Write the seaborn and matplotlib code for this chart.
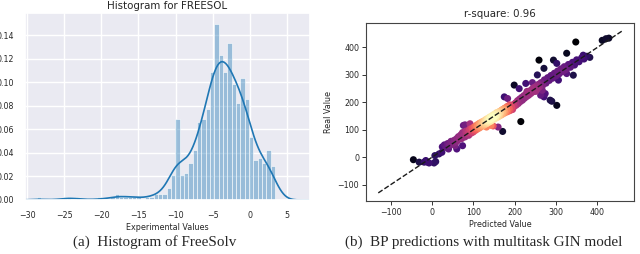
import numpy as np
import pandas as pd
import matplotlib.pyplot as plt
import seaborn as sns

# ---------------------------
# DATA
# ---------------------------
# histogram of FreeSolv experimental values (density per bin, read off the figure)
bin_start = -28.7
bin_width = 0.584
hist_heights = [0.0027, 0, 0, 0, 0, 0, 0.0027, 0.0027, 0, 0.0027,
                0, 0, 0, 0, 0.0027, 0, 0, 0.0027, 0.0054, 0.0027,
                0.0027, 0.0027, 0.0027, 0.0027, 0, 0.0027, 0.0027, 0.0054, 0.0054, 0.0054,
                0.0107, 0.0214, 0.0695, 0.0214, 0.0235, 0.032, 0.0427, 0.067, 0.0695, 0.078,
                0.110, 0.151, 0.124, 0.110, 0.1346, 0.0996, 0.0834, 0.1047, 0.0868, 0.054,
                0.034, 0.036, 0.032, 0.0427, 0.029]
hist_xticks = [-30, -25, -20, -15, -10, -5, 0, 5]
hist_yticks = [0.00, 0.02, 0.04, 0.06, 0.08, 0.10, 0.12, 0.14]

# BP predictions: main band along the diagonal
band_pred = [25, 30, 34, 38, 42, 46, 50, 54, 58, 60,
             62, 64, 67, 70, 72, 74, 77, 80, 82, 84, 87, 89, 91, 93, 95, 97, 99, 100,
             102, 103, 105, 106, 108, 109, 111, 112, 114, 115, 117, 118, 120, 121, 123, 124,
             126, 127, 129, 130, 132, 133, 135, 136, 138, 139, 141, 142, 144, 145, 147, 148,
             150, 151, 153, 154, 156, 157, 159, 160, 162, 163, 165, 166, 168, 169, 171, 172,
             174, 175, 177, 179, 181, 183, 185, 187, 189, 191, 193, 195, 197, 199,
             202, 204, 207, 209, 212, 214, 217, 219, 222, 224, 227, 229, 232, 234, 237, 239,
             242, 244, 247, 250, 253, 255, 258, 260,
             264, 268, 272, 276, 280, 284, 288, 292, 296, 300, 304, 308, 312, 316, 320, 325,
             330, 335, 340, 345, 350, 356, 362, 368, 375, 382,
             # extra points in the crowded middle of the band
             110, 113, 116, 119, 122, 125, 128, 131, 134, 137, 140, 143, 146, 149, 152,
             155, 158, 161, 164, 167, 170, 173, 176, 179, 182, 185, 188,
             134, 138, 142, 146, 150, 154, 158, 162, 140, 148, 156]
band_real = [38, 45, 36, 50, 44, 58, 48, 62, 55, 68,
             60, 75, 70, 82, 68, 90, 80, 74, 95, 86, 92, 80, 102, 96, 88, 106, 100, 92,
             110, 104, 98, 115, 108, 102, 120, 113, 106, 124, 117, 110, 128, 121, 114, 131,
             125, 118, 136, 129, 122, 140, 133, 126, 144, 137, 130, 148, 141, 134, 152, 145,
             138, 156, 149, 142, 160, 153, 146, 164, 157, 150, 168, 161, 154, 172, 165, 158,
             176, 169, 162, 180, 173, 166, 184, 177, 170, 188, 181, 174, 192, 185,
             198, 190, 206, 196, 212, 203, 218, 208, 224, 215, 230, 221, 236, 226, 242, 232,
             248, 238, 254, 244, 260, 250, 266, 256,
             272, 262, 282, 270, 290, 280, 298, 288, 306, 296, 314, 304, 322, 312, 330, 320,
             338, 328, 346, 336, 355, 348, 362, 358, 368, 364,
             113, 112, 119, 118, 125, 124, 131, 130, 137, 136, 143, 142, 149, 148, 155,
             154, 161, 160, 167, 166, 173, 172, 179, 178, 185, 184, 191,
             130, 134, 138, 142, 146, 150, 154, 158, 146, 154, 162]
# scattered points away from the band
out_pred = [-45, -31, -19, -11, -15, -7, 5, 9, 7, 17, 24, 40, 56, 60, 74, 76,
            132, 148, 160, 171, 143, 215, 199, 211, 227, 243, 175, 183, 263, 271,
            267, 274, 290, 302, 271, 322, 326, 342, 306, 259, 294, 302, 326, 366,
            348, 412, 421, 428, 80, 92, 251, 286, 255, 230]
out_real = [-9, -18, -18, -18, -12, -21, -21, -16, 6, 12, 18, 30, 42, 30, 42, 116,
            110, 114, 110, 94, 116, 130, 263, 250, 269, 272, 220, 214, 226, 220,
            244, 232, 204, 189, 324, 318, 305, 299, 281, 354, 354, 342, 379, 372,
            420, 426, 432, 434, 118, 122, 240, 208, 300, 240]
diag = [-130, 460]
scatter_ticks = [-100, 0, 100, 200, 300, 400]

# ---------------------------
# FIGURE
# ---------------------------
sns.set_theme(style="darkgrid")
plt.rcParams['font.family'] = ['DejaVu Sans']

fig = plt.figure(figsize=(6.4, 2.54), dpi=100)

# (a) histogram
ax1 = fig.add_axes([0.039, 0.2126, 0.445, 0.736])
edges = (bin_start + bin_width * np.arange(len(hist_heights) + 1)).tolist()
hist_df = pd.DataFrame({"value": np.array(edges[:-1]) + bin_width / 2,
                        "height": hist_heights})
sns.histplot(data=hist_df, x="value", weights="height", bins=edges, stat="density",
             kde=True, kde_kws=dict(bw_adjust=0.5, cut=3),
             color="#1f77b4", alpha=0.4, edgecolor="white", linewidth=0.4,
             line_kws=dict(linewidth=1.2), ax=ax1)
ax1.set_xlim(-30.3, 8.1)
ax1.set_ylim(0, 0.159)
ax1.set_xticks(hist_xticks)
ax1.set_yticks(hist_yticks)
ax1.set_yticklabels([f"{v:.2f}" for v in hist_yticks])
ax1.tick_params(labelsize=5.7, pad=2)
ax1.set_ylabel("")
ax1.set_xlabel("Experimental Values", fontsize=5.8, labelpad=2)
ax1.set_title("Histogram for FREESOL", fontsize=7.4, pad=3)

# (b) scatter
with sns.axes_style("white"):
    ax2 = fig.add_axes([0.572, 0.2087, 0.419, 0.701])

pred = np.array(band_pred + out_pred, dtype=float)
real = np.array(band_real + out_real, dtype=float)
# point density (in screen-ish units) for the colouring
sx, sy = pred * 0.42, real * 0.273
d2 = (sx[:, None] - sx[None, :]) ** 2 + (sy[:, None] - sy[None, :]) ** 2
dens = np.exp(-d2 / (2 * 6.0 ** 2)).sum(axis=1) ** 0.6
df = pd.DataFrame({"pred": pred, "real": real, "dens": dens}).sort_values("dens")

sns.scatterplot(data=df, x="pred", y="real", hue="dens", palette="magma",
                s=26, linewidth=0, legend=False, ax=ax2)
ax2.plot(diag, diag, "k--", linewidth=1, zorder=5)
ax2.set_xlim(-159.5, 489.5)
ax2.set_ylim(-159.5, 489.5)
ax2.set_xticks(scatter_ticks)
ax2.set_yticks(scatter_ticks)
ax2.tick_params(labelsize=5.7, bottom=True, left=True, direction="out",
                length=3, width=0.7, color="#333333", pad=2)
for sp in ax2.spines.values():
    sp.set_color("#444444")
    sp.set_linewidth(0.8)
ax2.set_xlabel("Predicted Value", fontsize=5.8, labelpad=2)
ax2.set_ylabel("Real Value", fontsize=5.8, labelpad=3)
ax2.set_title("r-square: 0.96", fontsize=7.4, pad=4)

# captions
fig.text(0.242, 0.048, "(a)  Histogram of FreeSolv", ha="center", va="center",
         family="Liberation Serif", fontsize=10.9)
fig.text(0.755, 0.048, "(b)  BP predictions with multitask GIN model", ha="center",
         va="center", family="Liberation Serif", fontsize=10.9)

fig.savefig("out.png", dpi=100, facecolor="white")
